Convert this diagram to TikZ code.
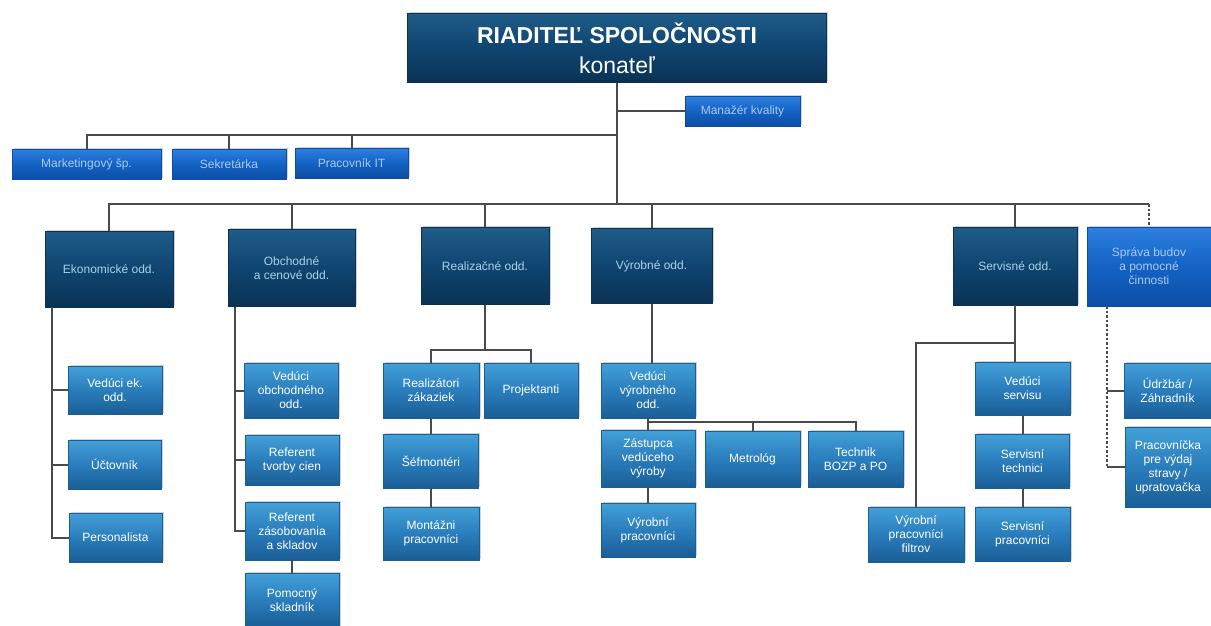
\documentclass[tikz,border=0pt]{standalone}
\usepackage{fontspec}
\setmainfont{Liberation Sans}
\usetikzlibrary{shadows}
\definecolor{navyT}{HTML}{1F5C88}
\definecolor{navyB}{HTML}{0A3254}
\definecolor{navyM}{HTML}{0F4570}
\definecolor{bluT}{HTML}{2C80E0}
\definecolor{bluB}{HTML}{0C4EA6}
\definecolor{bluM}{HTML}{1462C4}
\definecolor{subT}{HTML}{43A0D8}
\definecolor{subB}{HTML}{1A5E96}
\definecolor{subM}{HTML}{2A7DBC}
\definecolor{deptText}{HTML}{A8D2EA}
\definecolor{bluText}{HTML}{A9CBF2}
\definecolor{lineC}{HTML}{4A4A4A}
\tikzset{
  base/.style={rectangle, inner sep=2pt, align=center, font=\fontsize{12}{14}\selectfont,
     drop shadow={shadow xshift=1.5pt, shadow yshift=1.5pt, fill=black!35, opacity=0.5}},
  dirbox/.style={base, top color=navyT, bottom color=navyB, middle color=navyM, draw=navyB, text=white,
     font=\fontsize{23}{30}\selectfont},
  deptbox/.style={base, top color=navyT, bottom color=navyB, middle color=navyM, draw=navyB, text=deptText},
  bluebox/.style={base, top color=bluT, bottom color=bluB, middle color=bluM, draw=bluB, text=bluText},
  subbox/.style={base, top color=subT, bottom color=subB, middle color=subM, draw=subB, text=white},
  conn/.style={draw=lineC, line width=2pt},
  dconn/.style={draw=lineC, line width=2pt, dash pattern=on 2.5pt off 2pt}
}
\begin{document}
\begin{tikzpicture}[x=1pt,y=-1pt]
\useasboundingbox[fill=white] (0,0) rectangle (1211,625);
% director
\node[dirbox, minimum width=419pt, minimum height=69pt] (dir) at (617,48)
  {\bfseries RIADITEĽ SPOLOČNOSTI\\konateľ};
\node[bluebox, minimum width=115pt, minimum height=30pt] (mk) at (742.5,111) {Manažér kvality};
\node[bluebox, minimum width=149pt, minimum height=30pt] (mark) at (86.5,164) {Marketingový šp.};
\node[bluebox, minimum width=114pt, minimum height=30pt] (sekr) at (229,164) {Sekretárka};
\node[bluebox, minimum width=113pt, minimum height=30pt] (it) at (351.5,163) {Pracovník IT};
% departments
\node[deptbox, minimum width=128pt, minimum height=76pt] (ek) at (109,269) {Ekonomické odd.};
\node[deptbox, minimum width=127pt, minimum height=77pt] (ob) at (291.5,268) {Obchodné\\a cenové odd.};
\node[deptbox, minimum width=128pt, minimum height=77pt] (real) at (485,266) {Realizačné odd.};
\node[deptbox, minimum width=121pt, minimum height=75pt] (vyr) at (651.5,266) {Výrobné odd.};
\node[deptbox, minimum width=124pt, minimum height=78pt] (serv) at (1015,266) {Servisné odd.};
\node[bluebox, minimum width=124pt, minimum height=79pt] (sprava) at (1149,266.5) {Správa budov\\a pomocné\\činnosti};
% ekonomicke
\node[subbox, minimum width=94pt, minimum height=48pt] (vek) at (115,390) {Vedúci ek.\\odd.};
\node[subbox, minimum width=93pt, minimum height=49pt] (uct) at (114.5,464.5) {Účtovník};
\node[subbox, minimum width=93pt, minimum height=49pt] (pers) at (115.5,537.5) {Personalista};
% obchodne
\node[subbox, minimum width=94pt, minimum height=55pt] (vob) at (291,390.5) {Vedúci\\obchodného\\odd.};
\node[subbox, minimum width=94pt, minimum height=50pt] (rtc) at (292,460) {Referent\\tvorby cien};
\node[subbox, minimum width=94pt, minimum height=58pt] (rzs) at (292,531) {Referent\\zásobovania\\a skladov};
\node[subbox, minimum width=94pt, minimum height=54pt] (psk) at (292,600) {Pomocný\\skladník};
% realizacne
\node[subbox, minimum width=96pt, minimum height=55pt] (rz) at (431,390.5) {Realizátori\\zákaziek};
\node[subbox, minimum width=94pt, minimum height=55pt] (proj) at (531,390.5) {Projektanti};
\node[subbox, minimum width=95pt, minimum height=54pt] (sef) at (431,461) {Šéfmontéri};
\node[subbox, minimum width=96pt, minimum height=53pt] (mont) at (431,533.5) {Montážni\\pracovníci};
% vyrobne
\node[subbox, minimum width=94pt, minimum height=55pt] (vvo) at (648,390.5) {Vedúci\\výrobného\\odd.};
\node[subbox, minimum width=94pt, minimum height=57pt] (zast) at (648,458.5) {Zástupca\\vedúceho\\výroby};
\node[subbox, minimum width=95pt, minimum height=56pt] (metr) at (752.5,459) {Metrológ};
\node[subbox, minimum width=95pt, minimum height=56pt] (tech) at (855.5,459) {Technik\\BOZP a PO};
\node[subbox, minimum width=94pt, minimum height=54pt] (vpr) at (648,530) {Výrobní\\pracovníci};
% servisne
\node[subbox, minimum width=95pt, minimum height=53pt] (vser) at (1022.5,388.5) {Vedúci\\servisu};
\node[subbox, minimum width=94pt, minimum height=54pt] (stech) at (1022.5,461) {Servisní\\technici};
\node[subbox, minimum width=95pt, minimum height=54pt] (sprac) at (1022.5,534) {Servisní\\pracovníci};
\node[subbox, minimum width=96pt, minimum height=55pt] (vpf) at (916,534.5) {Výrobní\\pracovníci\\filtrov};
% sprava
\node[subbox, minimum width=87pt, minimum height=55pt] (udz) at (1167.5,390.5) {Údržbár /\\Záhradník};
\node[subbox, minimum width=86pt, minimum height=80pt] (prac) at (1168,467) {Pracovníčka\\pre výdaj\\stravy /\\upratovačka};
% coordinates
\coordinate (bus1) at (617,135);
\coordinate (bus2) at (617,204);
\coordinate (ekspine) at (52,0);
\coordinate (obspine) at (235,0);
\coordinate (rbus) at (0,350);
\coordinate (vbus) at (0,422);
\coordinate (sbus) at (0,343);
\coordinate (spspine) at (1107,0);
% connectors
\draw[conn] (dir.south) -- (bus2);
\draw[conn] (dir.south |- mk.west) -- (mk.west);
\draw[conn] (mark.north) |- (bus1);
\draw[conn] (sekr.north) -- (sekr.north |- bus1);
\draw[conn] (it.north) -- (it.north |- bus1);
\draw[conn] (ek.north) |- (bus2) -| (serv.north);
\draw[conn] (serv.north |- bus2) -- (sprava.north |- bus2);
\draw[dconn] (sprava.north |- bus2) -- (sprava.north);
\draw[conn] (ob.north) -- (ob.north |- bus2);
\draw[conn] (real.north) -- (real.north |- bus2);
\draw[conn] (vyr.north) -- (vyr.north |- bus2);
% ekonomicke
\draw[conn] (ek.south -| ekspine) |- (pers.west);
\draw[conn] (ekspine |- vek.west) -- (vek.west);
\draw[conn] (ekspine |- uct.west) -- (uct.west);
% obchodne
\draw[conn] (ob.south -| obspine) |- (rzs.west);
\draw[conn] (obspine |- vob.west) -- (vob.west);
\draw[conn] (obspine |- rtc.west) -- (rtc.west);
\draw[conn] (rzs.south) -- (psk.north);
% realizacne
\draw[conn] (real.south) -- (real.south |- rbus);
\draw[conn] (rz.north) |- (rbus -| proj.north) -- (proj.north);
\draw[conn] (rz.south) -- (sef.north);
\draw[conn] (sef.south) -- (mont.north);
% vyrobne
\draw[conn] (vyr.south) -- (vyr.south |- vvo.north);
\draw[conn] (vvo.south) -- (zast.north);
\draw[conn] (vvo.south |- vbus) -| (tech.north);
\draw[conn] (metr.north) -- (metr.north |- vbus);
\draw[conn] (zast.south) -- (vpr.north);
% servisne
\draw[conn] (serv.south) -- (serv.south |- vser.north);
\draw[conn] (serv.south |- sbus) -| (vpf.north);
\draw[conn] (vser.south) -- (stech.north);
\draw[conn] (stech.south) -- (sprac.north);
% sprava
\draw[dconn] (sprava.south -| spspine) -- (spspine |- prac.west);
\draw[conn] (spspine |- udz.west) -- (udz.west);
\draw[conn] (spspine |- prac.west) -- (prac.west);
\end{tikzpicture}
\end{document}
